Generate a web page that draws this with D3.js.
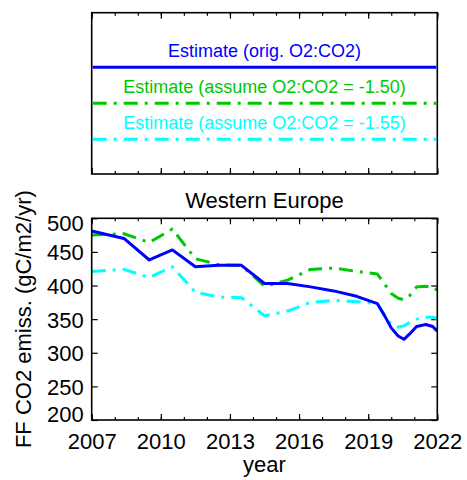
<!DOCTYPE html>
<html><head><meta charset="utf-8">
<script src="https://cdn.jsdelivr.net/npm/d3@7"></script>
<style>body{margin:0;background:#fff}svg{display:block}text{font-family:"Liberation Sans",Arial,sans-serif}</style>
</head><body>
<script>
const years = [2007.0,2008.4,2009.5,2010.5,2011.5,2012.5,2013.5,2014.5,2015.5,2016.5,2017.5,2018.5,2019.4,2019.7,2020.0,2020.3,2020.55,2020.8,2021.1,2021.5,2021.8,2022.0];
const origValues = [481,470,438,453,428,430,430,403,403,398,392,384,373,356,337,325,320,328,339,342,339,332];
const o150Values = [475,477,464,484,440,431,430,399,408,424,426,421,417,403,388,381,379,385,398,399,398,393];
const o155Values = [421,424,412,428,390,383,382,355,362,375,378,376,373,355,342,338,340,345,350,353,353,351];
const xMajorTicks = [2007,2010,2013,2016,2019,2022];
const xMinorTicks = d3.range(2007,2023);
const yTicks = [200,250,300,350,400,450,500];
const seriesNames = ["Estimate (orig. O2:CO2)","Estimate (assume O2:CO2 = -1.50)","Estimate (assume O2:CO2 = -1.55)"];
const seriesColors = ["#0000ff","#00c800","#00ffff"];
const title = "Western Europe";
const xLabel = "year";
const yLabel = "FF CO2 emiss. (gC/m2/yr)";

const W=467,H=480;
const svg=d3.select("body").append("svg").attr("width",W).attr("height",H);
const L=91.7,R=437.3,T=218.3,B=420;
const x=d3.scaleLinear().domain([2007,2022]).range([L,R]);
const y=d3.scaleLinear().domain([200,500]).range([B,T]);
const dashes=[null,"14,7,3,7","14,7,3,7"];

// Legend box
const LT=12.7,LB=174;
function tickAxes(g, top, bottom){
  g.append("g").attr("transform",`translate(0,${top})`).call(d3.axisTop(x).tickValues(xMinorTicks).tickSize(-3).tickFormat(""));
  g.append("g").attr("transform",`translate(0,${top})`).call(d3.axisTop(x).tickValues(xMajorTicks).tickSize(-6).tickFormat(""));
  g.append("g").attr("transform",`translate(0,${bottom})`).call(d3.axisBottom(x).tickValues(xMinorTicks).tickSize(-3).tickFormat(""));
  g.append("g").attr("transform",`translate(0,${bottom})`).call(d3.axisBottom(x).tickValues(xMajorTicks).tickSize(-6).tickFormat(""));
  g.selectAll(".domain").remove();
  g.selectAll(".tick line").attr("stroke","#000").attr("stroke-width",1.2);
}
const lg=svg.append("g");
tickAxes(lg,LT,LB);
lg.append("rect").attr("x",L).attr("y",LT).attr("width",R-L).attr("height",LB-LT).attr("fill","none").attr("stroke","#000").attr("stroke-width",1.6);
const legY=[67.3,103.3,139.3];
seriesNames.forEach((n,i)=>{
  lg.append("text").attr("x",(L+R)/2).attr("y",legY[i]-10.5).attr("text-anchor","middle").attr("font-size",18).attr("fill",seriesColors[i]).text(n);
  lg.append("line").attr("x1",L+1).attr("x2",R-1).attr("y1",legY[i]).attr("y2",legY[i]).attr("stroke",seriesColors[i]).attr("stroke-width",3).attr("stroke-dasharray",dashes[i]);
});

// Plot
const pg=svg.append("g");
tickAxes(pg,T,B);
pg.append("g").attr("transform",`translate(${L},0)`).call(d3.axisLeft(y).tickValues(yTicks).tickSize(-6).tickFormat("")).select(".domain").remove();
pg.append("g").attr("transform",`translate(${R},0)`).call(d3.axisRight(y).tickValues(yTicks).tickSize(-6).tickFormat("")).select(".domain").remove();
pg.selectAll(".tick line").attr("stroke","#000").attr("stroke-width",1.2);

const line=d3.line().x((d,i)=>x(years[i])).y(d=>y(d));
const cp=svg.append("defs").append("clipPath").attr("id","cp").append("rect").attr("x",L).attr("y",T).attr("width",R-L).attr("height",B-T);
[origValues,o150Values,o155Values].forEach((vals,i)=>{}); 
[o155Values,o150Values,origValues].forEach((vals,k)=>{
  const i=2-k;
  pg.append("path").datum(vals).attr("d",line).attr("fill","none").attr("stroke",seriesColors[i]).attr("stroke-width",3).attr("stroke-linejoin","round").attr("stroke-dasharray",dashes[i]).attr("clip-path","url(#cp)");
});
pg.append("rect").attr("x",L).attr("y",T).attr("width",R-L).attr("height",B-T).attr("fill","none").attr("stroke","#000").attr("stroke-width",1.6);

// tick labels
const xl=svg.append("g").attr("transform",`translate(0,${B})`).call(d3.axisBottom(x).tickValues(xMajorTicks).tickSize(0).tickPadding(29).tickFormat(d3.format("d")));
xl.select(".domain").remove();
xl.selectAll("text").attr("font-size",22).attr("font-family","Liberation Sans, Arial, sans-serif").attr("fill","#000").attr("dy",0);
const yl=svg.append("g").attr("transform",`translate(${L},0)`).call(d3.axisLeft(y).tickValues(yTicks).tickSize(0).tickPadding(8).tickFormat(d3.format("d")));
yl.select(".domain").remove();
yl.selectAll("text").attr("font-size",22).attr("font-family","Liberation Sans, Arial, sans-serif").attr("fill","#000").attr("dy",d=>d===500?"0.55em":d===200?"0.05em":"0.36em");

svg.append("text").attr("x",(L+R)/2).attr("y",208).attr("text-anchor","middle").attr("font-size",22).text(title);
svg.append("text").attr("x",(L+R)/2).attr("y",472).attr("text-anchor","middle").attr("font-size",22).text(xLabel);
svg.append("text").attr("transform",`translate(31,${(T+B)/2}) rotate(-90)`).attr("text-anchor","middle").attr("font-size",22).text(yLabel);
</script>
</body></html>
